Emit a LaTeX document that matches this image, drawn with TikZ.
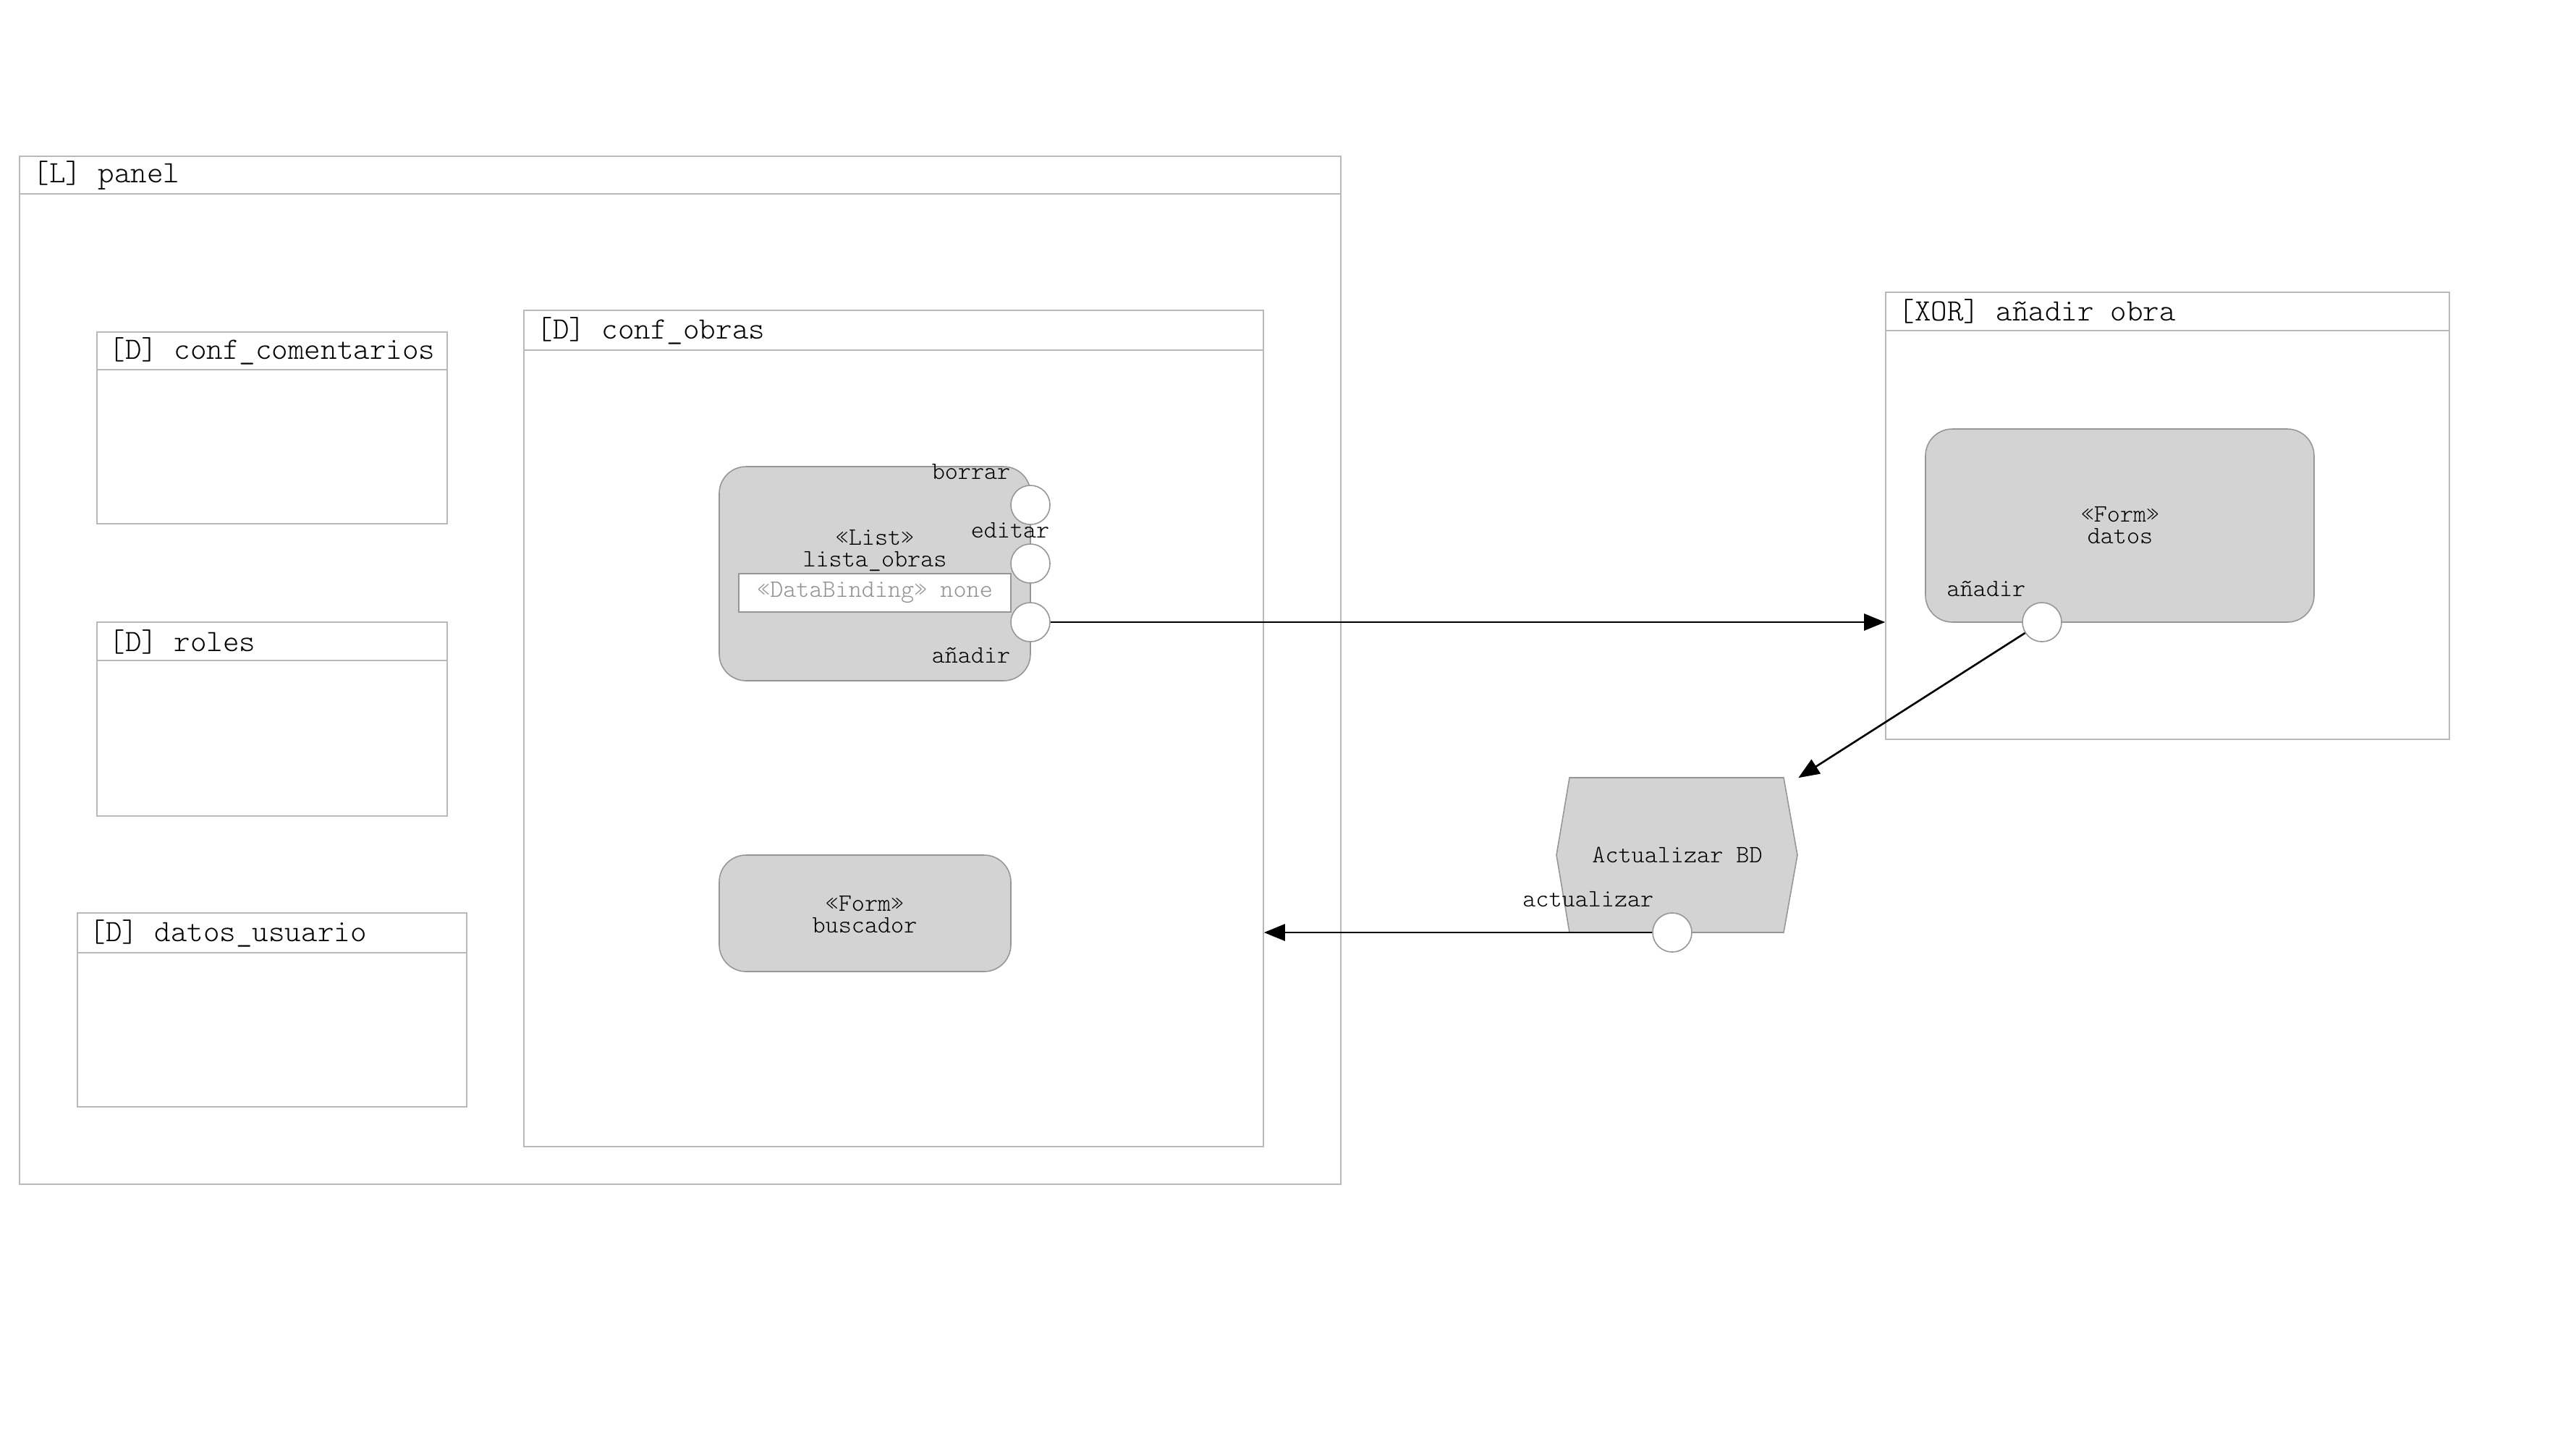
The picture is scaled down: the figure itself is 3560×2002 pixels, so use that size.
\documentclass[tikz,border=0pt]{standalone}
\usepackage{fontspec}
\newfontfamily\lmlight{Latin Modern Mono Light}
\usetikzlibrary{fit,arrows.meta}
\definecolor{ctrgray}{RGB}{185,185,185}
\definecolor{boxgray}{RGB}{150,150,150}
\definecolor{fillgray}{RGB}{211,211,211}
\definecolor{txtgray}{RGB}{145,145,145}
\tikzset{
  ctr/.style={draw=ctrgray, line width=0.45pt, inner sep=0pt},
  hdr/.style={draw=ctrgray, line width=0.45pt},
  ttl/.style={anchor=west, inner sep=0pt, font=\lmlight\fontsize{12.2}{13}\selectfont},
  rbox/.style={draw=boxgray, fill=fillgray, line width=0.45pt, inner sep=0pt, rounded corners=0.37cm},
  lbl/.style={inner sep=0pt, font=\lmlight\fontsize{9.8}{8.4}\selectfont, align=center},
  port/.style={circle, draw=boxgray, fill=white, line width=0.45pt, inner sep=0pt, minimum size=0.54cm},
  conn/.style={draw=black, line width=0.75pt, -{Triangle[length=0.29cm,width=0.23cm]}},
}
\begin{document}
\begin{tikzpicture}[x=0.01cm,y=-0.01cm]
\useasboundingbox (0,0) rectangle (3560,2002);
% panel
\node[ctr, fit={(27,216) (1853,1637)}] (panel) {};
\draw[hdr] (27,268) -- (1853,268);
\node[ttl] (panelT) at (45,242) {[L] panel};
% conf_comentarios
\node[ctr, fit={(134,459) (618,724)}] (comen) {};
\draw[hdr] (134,511) -- (618,511);
\node[ttl] (comenT) at (150,485) {[D] conf\_comentarios};
% roles
\node[ctr, fit={(134,860) (618,1128)}] (roles) {};
\draw[hdr] (134,913) -- (618,913);
\node[ttl] (rolesT) at (150,887) {[D] roles};
% datos_usuario
\node[ctr, fit={(107,1262) (645,1530)}] (usu) {};
\draw[hdr] (107,1317) -- (645,1317);
\node[ttl] (usuT) at (123,1290) {[D] datos\_usuario};
% conf_obras
\node[ctr, fit={(724,429) (1746,1585)}] (obras) {};
\draw[hdr] (724,484) -- (1746,484);
\node[ttl] (obrasT) at (741,457) {[D] conf\_obras};
% lista_obras
\node[rbox, fit={(994,645) (1424,941)}] (lista) {};
\node[lbl] (listaT) at (1209,761) {«List»\\lista\_obras};
\node[draw=boxgray, fill=white, line width=0.45pt, inner sep=0pt, fit={(1021,793) (1397,846)}] (bind) {};
\node[lbl, text=txtgray] (bindT) at (bind.center) {«DataBinding» none};
\node[port] (pb) at (1424,698) {};
\node[port] (pe) at (1424,779) {};
\node[port] (pn) at (1424,860) {};
\node[lbl, anchor=east] (pbT) at (1397,652) {borrar};
\node[lbl, anchor=east] (peT) at (1451,733) {editar};
\node[lbl, anchor=east] (pnT) at (1397,906) {añadir};
% buscador
\node[rbox, fit={(994,1182) (1397,1343)}] (busc) {};
\node[lbl] (buscT) at (1195,1264) {«Form»\\buscador};
% XOR
\node[ctr, fit={(2606,404) (3385,1022)}] (xor) {};
\draw[hdr] (2606,457) -- (3385,457);
\node[ttl] (xorT) at (2623,430) {[XOR] añadir obra};
\node[rbox, fit={(2661,593) (3198,860)}] (datos) {};
\node[lbl] (datosT) at (2930,726) {«Form»\\datos};
\node[lbl, anchor=west] (pdT) at (2690,814) {añadir};
\node[port] (pd) at (2822,860) {};
% Actualizar BD
\draw[draw=boxgray, fill=fillgray, line width=0.45pt] (2169,1075) -- (2465,1075) -- (2484,1182) -- (2465,1289) -- (2169,1289) -- (2151,1182) -- cycle;
\node[lbl, minimum width=3.33cm, minimum height=2.14cm] (act) at (2318,1182) {Actualizar BD};
\node[lbl, anchor=east] (paT) at (2286,1243) {actualizar};
\node[port] (pa) at (2311,1289) {};
% connectors
\draw[conn] (pn) -- (pn -| xor.west);
\draw[conn] (pd) -- (act);
\draw[conn] (pa) -- (pa -| obras.east);
\end{tikzpicture}
\end{document}
